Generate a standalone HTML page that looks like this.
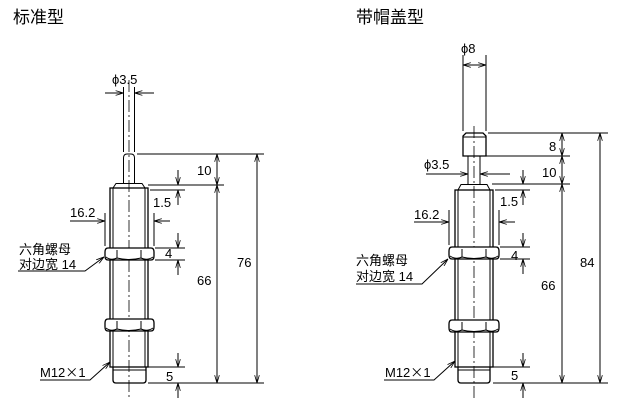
<!DOCTYPE html>
<html><head><meta charset="utf-8"><style>
html,body{margin:0;padding:0;background:#fff;}
svg{display:block;}
text{font-family:"Liberation Sans","Noto Sans CJK SC",sans-serif;fill:#000;}
</style></head><body>
<svg width="643" height="410" viewBox="0 0 643 410" xmlns="http://www.w3.org/2000/svg">
<defs>
<marker id="a" viewBox="0 0 10 6" refX="10" refY="3" markerWidth="8" markerHeight="5" orient="auto-start-reverse" markerUnits="userSpaceOnUse">
<path d="M0,0 L10,3 L0,6" fill="none" stroke="#000" stroke-width="1"/>
</marker>
</defs>
<text x="13" y="23" font-size="17" font-family="Noto Sans CJK SC, sans-serif">标准型</text>
<text x="356" y="23" font-size="17" font-family="Noto Sans CJK SC, sans-serif">带帽盖型</text>

<g fill="none" stroke="#000" stroke-width="1">
<!-- ===== LEFT ===== -->
<line x1="129" y1="80" x2="129" y2="398" stroke-dasharray="12,3,2,3" stroke-width="0.8"/>
<path d="M123.5,183 V158 Q123.5,154 127,154 H131 Q134.5,154 134.5,158 V183"/>
<path d="M113,188 L116,183.5 H142 L145,188"/>
<line x1="112" y1="188" x2="146" y2="188"/>
<rect x="110" y="188" width="38" height="179" stroke-width="1.3"/>
<line x1="113" y1="188" x2="113" y2="367"/>
<line x1="145" y1="188" x2="145" y2="367"/>
<path d="M113,367 V380 Q113,383 116,383 H143 Q146,383 146,380 V367" stroke-width="1.3"/>
<line x1="113" y1="370" x2="146" y2="370"/>
<g fill="#fff">
<path d="M108,248 H151 Q154,248 154,252 V256 Q154,260 151,260 H108 Q105,260 105,256 V252 Q105,248 108,248Z" stroke-width="1.3"/>
<path d="M108,319 H151 Q154,319 154,323 V327 Q154,331 151,331 H108 Q105,331 105,327 V323 Q105,319 108,319Z" stroke-width="1.3"/>
</g>
<path d="M117,250 V258 M141,250 V258 M106,257 Q111,261 117,258 Q129,261 141,258 Q147,261 153,257"/>
<path d="M117,321 V329 M141,321 V329 M106,328 Q111,332 117,329 Q129,332 141,329 Q147,332 153,328"/>
<line x1="123.5" y1="87" x2="123.5" y2="152"/>
<line x1="134.5" y1="87" x2="134.5" y2="152"/>
<line x1="105" y1="93" x2="123.5" y2="93" marker-end="url(#a)"/>
<line x1="154" y1="93" x2="134.5" y2="93" marker-end="url(#a)"/>
<line x1="137" y1="154" x2="264" y2="154"/>
<line x1="148" y1="185" x2="224" y2="185"/>
<line x1="148" y1="383" x2="264" y2="383"/>
<line x1="217" y1="154" x2="217" y2="185" marker-start="url(#a)" marker-end="url(#a)"/>
<line x1="217" y1="185" x2="217" y2="383" marker-start="url(#a)" marker-end="url(#a)"/>
<line x1="257" y1="154" x2="257" y2="383" marker-start="url(#a)" marker-end="url(#a)"/>
<line x1="150" y1="190" x2="185" y2="190"/>
<line x1="178" y1="170" x2="178" y2="185" marker-end="url(#a)"/>
<line x1="178" y1="205" x2="178" y2="190" marker-end="url(#a)"/>
<line x1="105" y1="213" x2="105" y2="246"/>
<line x1="154" y1="213" x2="154" y2="246"/>
<line x1="70" y1="221" x2="105" y2="221" marker-end="url(#a)"/>
<line x1="170" y1="221" x2="154" y2="221" marker-end="url(#a)"/>
<line x1="155" y1="248" x2="185" y2="248"/>
<line x1="155" y1="260" x2="185" y2="260"/>
<line x1="178" y1="233" x2="178" y2="248" marker-end="url(#a)"/>
<line x1="178" y1="275" x2="178" y2="260" marker-end="url(#a)"/>
<line x1="148" y1="367" x2="185" y2="367"/>
<line x1="178" y1="353" x2="178" y2="367" marker-end="url(#a)"/>
<line x1="178" y1="398" x2="178" y2="383" marker-end="url(#a)"/>
<path d="M18,271 H85 L104,257" marker-end="url(#a)"/>
<path d="M40,380 H90 L110,362" marker-end="url(#a)"/>

<!-- ===== RIGHT ===== -->
<line x1="474" y1="126" x2="474" y2="398" stroke-dasharray="12,3,2,3" stroke-width="0.8"/>
<path d="M463,156 V136 L466,133 H483 L486,136 V156 Z" stroke-width="1.3"/>
<line x1="463" y1="137" x2="486" y2="137"/>
<path d="M468,156 V184 M480,156 V184"/>
<path d="M458,190 L461,184.5 H487 L490,190"/>
<line x1="457" y1="190" x2="491" y2="190"/>
<rect x="455" y="190" width="38" height="177" stroke-width="1.3"/>
<line x1="458" y1="190" x2="458" y2="367"/>
<line x1="490" y1="190" x2="490" y2="367"/>
<path d="M458,367 V380 Q458,383 461,383 H487 Q490,383 490,380 V367" stroke-width="1.3"/>
<line x1="458" y1="370" x2="490" y2="370"/>
<g fill="#fff">
<path d="M452,247 H496 Q499,247 499,251 V255 Q499,259 496,259 H452 Q449,259 449,255 V251 Q449,247 452,247Z" stroke-width="1.3"/>
<path d="M452,320 H496 Q499,320 499,324 V328 Q499,332 496,332 H452 Q449,332 449,328 V324 Q449,320 452,320Z" stroke-width="1.3"/>
</g>
<path d="M462,249 V257 M486,249 V257 M450,256 Q456,260 462,257 Q474,260 486,257 Q492,260 498,256"/>
<path d="M462,322 V330 M486,322 V330 M450,329 Q456,333 462,330 Q474,333 486,330 Q492,333 498,329"/>
<line x1="463" y1="55" x2="463" y2="131"/>
<line x1="486" y1="55" x2="486" y2="131"/>
<line x1="463" y1="65" x2="486" y2="65" marker-start="url(#a)" marker-end="url(#a)"/>
<line x1="426" y1="174" x2="468" y2="174" marker-end="url(#a)"/>
<line x1="510" y1="174" x2="480" y2="174" marker-end="url(#a)"/>
<line x1="488" y1="133" x2="608" y2="133"/>
<line x1="486" y1="156" x2="570" y2="156"/>
<line x1="492" y1="184" x2="570" y2="184"/>
<line x1="493" y1="383" x2="608" y2="383"/>
<line x1="562" y1="133" x2="562" y2="156" marker-start="url(#a)" marker-end="url(#a)"/>
<line x1="562" y1="156" x2="562" y2="184" marker-start="url(#a)" marker-end="url(#a)"/>
<line x1="562" y1="184" x2="562" y2="383" marker-start="url(#a)" marker-end="url(#a)"/>
<line x1="600" y1="133" x2="600" y2="383" marker-start="url(#a)" marker-end="url(#a)"/>
<line x1="495" y1="190" x2="530" y2="190"/>
<line x1="523" y1="170" x2="523" y2="184" marker-end="url(#a)"/>
<line x1="523" y1="205" x2="523" y2="190" marker-end="url(#a)"/>
<line x1="449" y1="210" x2="449" y2="245"/>
<line x1="499" y1="210" x2="499" y2="245"/>
<line x1="414" y1="222" x2="449" y2="222" marker-end="url(#a)"/>
<line x1="515" y1="222" x2="499" y2="222" marker-end="url(#a)"/>
<line x1="500" y1="247" x2="530" y2="247"/>
<line x1="500" y1="259" x2="530" y2="259"/>
<line x1="523" y1="233" x2="523" y2="247" marker-end="url(#a)"/>
<line x1="523" y1="274" x2="523" y2="259" marker-end="url(#a)"/>
<line x1="493" y1="367" x2="530" y2="367"/>
<line x1="523" y1="353" x2="523" y2="367" marker-end="url(#a)"/>
<line x1="523" y1="398" x2="523" y2="383" marker-end="url(#a)"/>
<path d="M356,284 H422 L448,259" marker-end="url(#a)"/>
<path d="M384,380 H434 L455,361" marker-end="url(#a)"/>
</g>

<g font-size="13">
<text x="112" y="84">ϕ3.5</text>
<text x="197" y="175">10</text>
<text x="153" y="207">1.5</text>
<text x="70" y="217">16.2</text>
<text x="165" y="258">4</text>
<text x="197" y="285">66</text>
<text x="237" y="267">76</text>
<text x="166" y="381">5</text>
<text x="19" y="254">六角螺母</text>
<text x="19" y="269">对边宽 14</text>
<text x="40" y="377">M12<tspan font-family="Noto Sans CJK SC, sans-serif">×</tspan>1</text>

<text x="461" y="53">ϕ8</text>
<text x="549" y="151">8</text>
<text x="542" y="177">10</text>
<text x="424" y="169">ϕ3.5</text>
<text x="500" y="206">1.5</text>
<text x="414" y="219">16.2</text>
<text x="511" y="260">4</text>
<text x="541" y="290">66</text>
<text x="580" y="267">84</text>
<text x="511" y="380">5</text>
<text x="356" y="265">六角螺母</text>
<text x="356" y="281">对边宽 14</text>
<text x="385" y="377">M12<tspan font-family="Noto Sans CJK SC, sans-serif">×</tspan>1</text>
</g>
</svg>
</body></html>
